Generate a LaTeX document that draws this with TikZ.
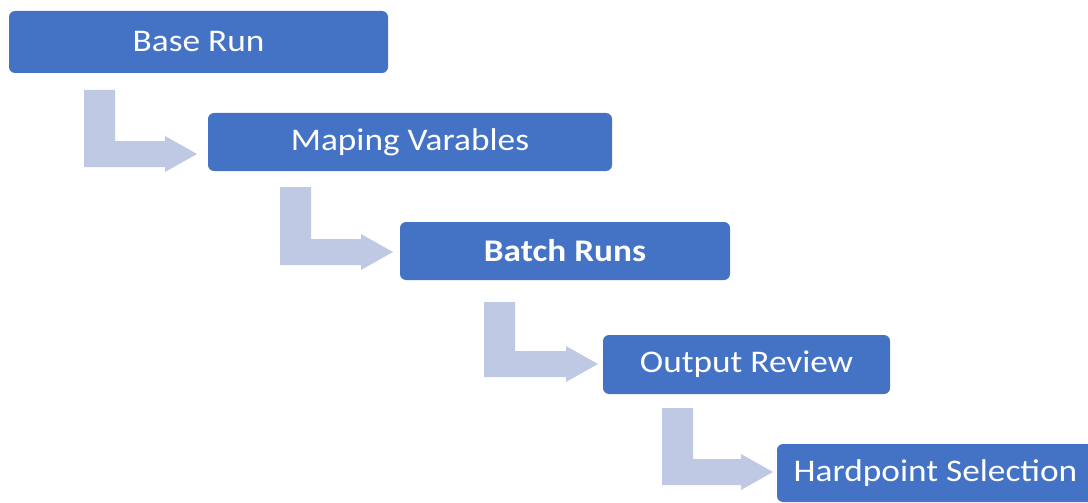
\documentclass[tikz,border=0pt]{standalone}
\usepackage{fontspec}
\setmainfont[FakeStretch=1.12]{Carlito}
\definecolor{stepblue}{HTML}{4472C4}
\definecolor{flowgrey}{HTML}{BFC9E4}
\tikzset{
    stepbox/.style={fill=stepblue, rounded corners=6pt, inner sep=0pt,
        text=white, font=\fontsize{31.5}{36}\selectfont},
    bentarrow/.style={fill=flowgrey, draw=none}
}
\begin{document}
\begin{tikzpicture}[x=1pt,y=-1pt]
    \useasboundingbox (0,0) rectangle (1088,503);
    % steps
    \node[stepbox, minimum width=379pt, minimum height=62pt] (base) at (198.5,42) {Base Run};
    \node[stepbox, minimum width=404pt, minimum height=58pt] (map) at (410,142) {Maping Varables};
    \node[stepbox, minimum width=330pt, minimum height=58pt] (batch) at (565,251) {\bfseries Batch Runs};
    \node[stepbox, minimum width=287pt, minimum height=59pt] (review) at (746.5,364.5) {Output Review};
    \node[stepbox, minimum width=317pt, minimum height=58pt] (hardpoint) at (935.5,473) {Hardpoint Selection};
    % bent arrows: stem left / stem top / bottom / tip
    \foreach \sx/\ty/\by/\tx in {84/90/167/197, 280/187/265/393, 484/302/377/598, 662/408/485/773}
    {
        \fill[bentarrow] (\sx,\ty) -- ++(31,0) -- (\sx+31,\by-26) -- (\tx-32,\by-26)
            -- (\tx-32,\by-31) -- (\tx,\by-13) -- (\tx-32,\by+5) -- (\tx-32,\by)
            -- (\sx,\by) -- cycle;
    }
\end{tikzpicture}
\end{document}
